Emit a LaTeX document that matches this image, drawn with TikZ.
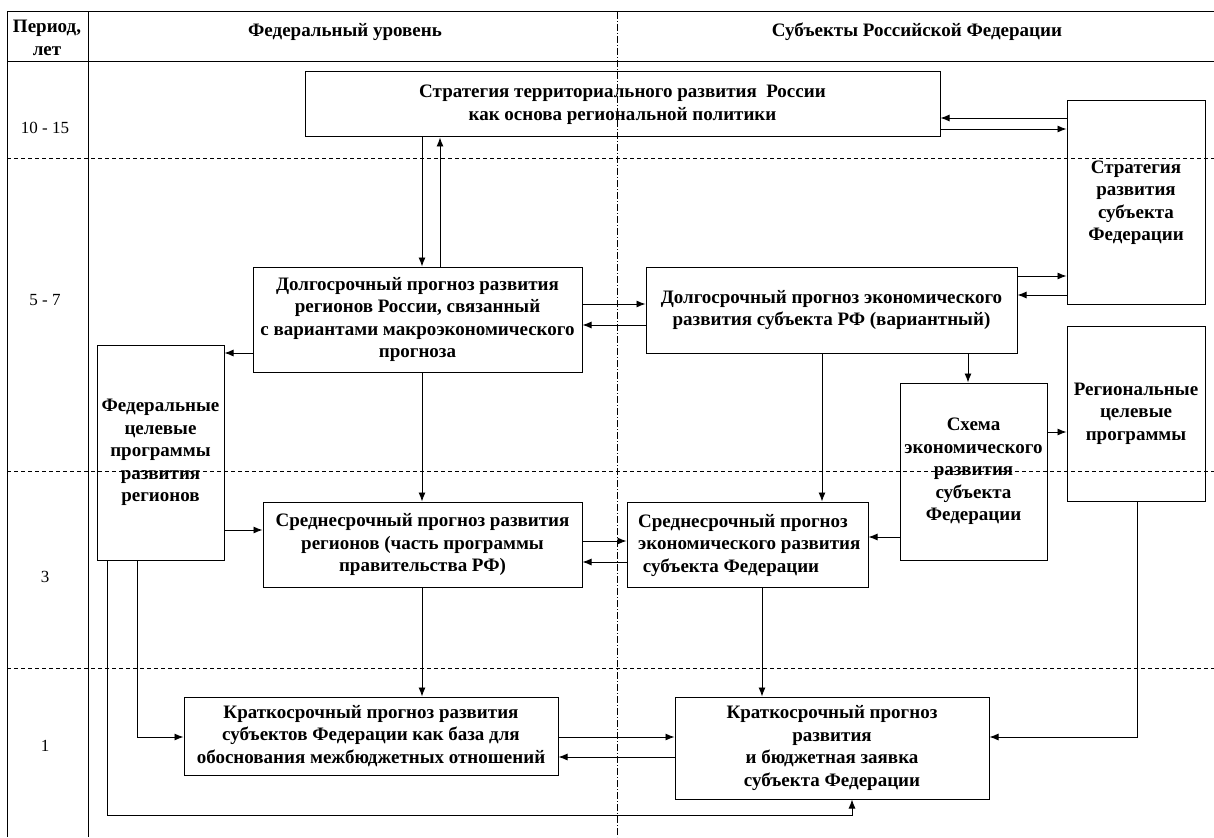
\documentclass[tikz,border=0pt]{standalone}
\usepackage{fontspec}
\setmainfont{Liberation Serif}
\usetikzlibrary{arrows.meta}
\begin{document}
\begin{tikzpicture}[x=1pt,y=-1pt,
  box/.style={draw,line width=1pt,inner sep=0pt,align=center,font=\bfseries\fontsize{19}{22.5}\selectfont},
  txt/.style={inner sep=0pt,align=center,font=\bfseries\fontsize{19}{22.5}\selectfont},
  per/.style={inner sep=0pt,font=\fontsize{17}{20}\selectfont},
  arr/.style={line width=0.9pt,-{Latex[length=9pt,width=7pt]}},
  frame/.style={line width=1pt},
  grid/.style={line width=0.7pt,dash pattern=on 4pt off 3pt},
  vgrid/.style={line width=0.7pt,dash pattern=on 7pt off 2pt on 1pt off 2pt}]
\useasboundingbox (0,0) rectangle (1214,837);
\fill[white] (0,0) rectangle (1214,837);
% frame
\draw[frame] (7,12) -- (1214,12);
\draw[frame] (7,62) -- (1214,62);
\draw[frame] (7,12) -- (7,837);
\draw[frame] (88,12) -- (88,837);
\draw[vgrid] (617,12) -- (617,837);
\draw[grid] (7,158) -- (1214,158);
\draw[grid] (7,471) -- (1214,471);
\draw[grid] (7,668) -- (1214,668);
% header
\node[txt] (h1) at (47,38) {Период,\\лет};
\node[txt] (h2) at (345,32) {Федеральный уровень};
\node[txt] (h3) at (917,32) {Субъекты Российской Федерации};
\node[per] (p1) at (45,128) {10 - 15};
\node[per] (p2) at (45,300) {5 - 7};
\node[per] (p3) at (45,577) {3};
\node[per] (p4) at (45,746) {1};
% boxes
\node[box,minimum width=635,minimum height=65] (top) at (622.5,104.5) {Стратегия территориального развития\ \ России\\как основа региональной политики};
\node[box,minimum width=138,minimum height=203] (ss) at (1136,202.5) {Стратегия\\развития\\субъекта\\Федерации};
\node[box,minimum width=329,minimum height=105] (ltf) at (417.5,319.5) {Долгосрочный прогноз развития\\регионов России, связанный\\с вариантами макроэкономического\\прогноза};
\node[box,minimum width=371,minimum height=86] (lts) at (831.5,310) {Долгосрочный прогноз экономического\\развития субъекта РФ (вариантный)};
\node[box,minimum width=127,minimum height=215] (ftp) at (160.5,452.5) {Федеральные\\целевые\\программы\\развития\\регионов};
\node[box,minimum width=147,minimum height=177] (sch) at (973.5,471.5) {Схема\\экономического\\развития\\субъекта\\Федерации};
\node[box,minimum width=138,minimum height=175] (rtp) at (1136,413.5) {Региональные\\целевые\\программы};
\node[box,minimum width=319,minimum height=85] (mf) at (422.5,544.5) {Среднесрочный прогноз развития\\регионов (часть программы\\правительства РФ)};
\node[box,minimum width=241,minimum height=85] (ms) at (747.5,544.5) {};
\node[txt,align=left,anchor=west] (mst) at (638,545.5) {Среднесрочный прогноз\\экономического развития\\\ субъекта Федерации};
\node[box,minimum width=374,minimum height=78] (sf) at (371,736) {Краткосрочный прогноз развития\\субъектов Федерации как база для\\обоснования межбюджетных отношений};
\node[box,minimum width=314,minimum height=102] (sj) at (832,748) {Краткосрочный прогноз\\развития\\и бюджетная заявка\\субъекта Федерации};
% helper coordinates
\coordinate (xa) at (422,0);
\coordinate (xb) at (440,0);
\coordinate (xc) at (822,0);
\coordinate (xd) at (968,0);
\coordinate (xe) at (762,0);
\coordinate (xf) at (137,0);
\coordinate (xg) at (107,0);
\coordinate (xh) at (852,0);
\coordinate (xi) at (1137,0);
\coordinate (y1) at (0,118);
\coordinate (y2) at (0,129);
\coordinate (y3) at (0,276);
\coordinate (y4) at (0,295);
\coordinate (y5) at (0,304);
\coordinate (y6) at (0,325);
\coordinate (y7) at (0,353);
\coordinate (y8) at (0,432);
\coordinate (y9) at (0,537);
\coordinate (y10) at (0,530);
\coordinate (y11) at (0,541);
\coordinate (y12) at (0,562);
\coordinate (y13) at (0,737);
\coordinate (y14) at (0,815);
\coordinate (y15) at (0,757);
% arrows
\draw[arr] (top.south -| xa) -- (ltf.north -| xa);
\draw[arr] (ltf.north -| xb) -- (top.south -| xb);
\draw[arr] (ss.west |- y1) -- (top.east |- y1);
\draw[arr] (top.east |- y2) -- (ss.west |- y2);
\draw[arr] (lts.east |- y3) -- (ss.west |- y3);
\draw[arr] (ss.west |- y4) -- (lts.east |- y4);
\draw[arr] (ltf.east |- y5) -- (lts.west |- y5);
\draw[arr] (lts.west |- y6) -- (ltf.east |- y6);
\draw[arr] (ltf.west |- y7) -- (ftp.east |- y7);
\draw[arr] (ltf.south -| xa) -- (mf.north -| xa);
\draw[arr] (lts.south -| xc) -- (ms.north -| xc);
\draw[arr] (lts.south -| xd) -- (sch.north -| xd);
\draw[arr] (sch.east |- y8) -- (rtp.west |- y8);
\draw[arr] (sch.west |- y9) -- (ms.east |- y9);
\draw[arr] (ftp.east |- y10) -- (mf.west |- y10);
\draw[arr] (mf.east |- y11) -- (ms.west |- y11);
\draw[arr] (ms.west |- y12) -- (mf.east |- y12);
\draw[arr] (mf.south -| xa) -- (sf.north -| xa);
\draw[arr] (ms.south -| xe) -- (sj.north -| xe);
\draw[arr] (ftp.south -| xf) |- (sf.west |- y13);
\draw[arr] (ftp.south -| xg) |- (xh |- y14) -- (sj.south -| xh);
\draw[arr] (rtp.south -| xi) |- (sj.east |- y13);
\draw[arr] (sf.east |- y13) -- (sj.west |- y13);
\draw[arr] (sj.west |- y15) -- (sf.east |- y15);
\end{tikzpicture}
\end{document}
